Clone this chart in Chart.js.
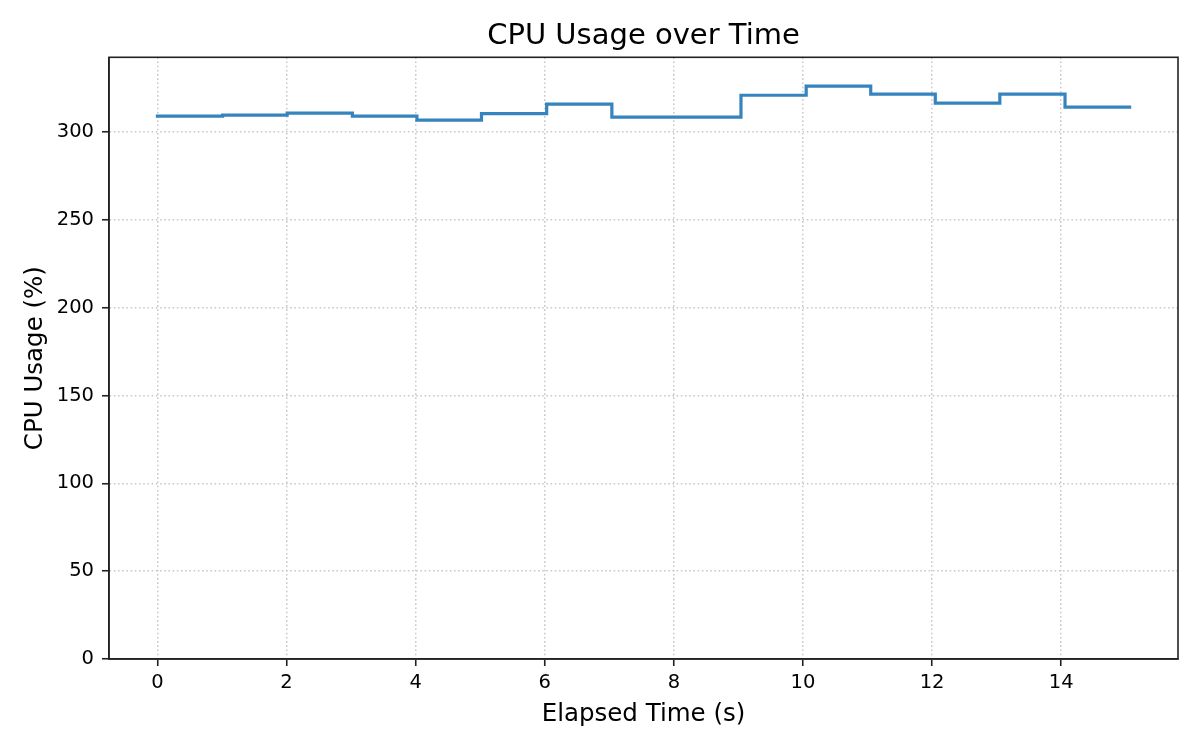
<!DOCTYPE html>
<html>
<head>
<meta charset="utf-8">
<script src="https://cdn.jsdelivr.net/npm/chart.js@4"></script>
<style>
  html, body { margin: 0; padding: 0; background: #ffffff; }
  #wrap { width: 1200px; height: 750px; }
</style>
</head>
<body>
<div id="wrap"><canvas id="c" width="1200" height="750"></canvas></div>
<script>
// Data
const elapsedTime = [0, 1.01, 2.01, 3.02, 4.02, 5.02, 6.03, 7.04, 8.04, 9.04, 10.05, 11.05, 12.05, 13.05, 14.06, 15.06];
const cpuUsage    = [309.1, 309.7, 310.8, 309.1, 306.8, 310.5, 315.9, 308.5, 308.5, 321.0, 326.2, 321.6, 316.5, 321.6, 314.2, 314.2];
const xTickValues = [0, 2, 4, 6, 8, 10, 12, 14];
const yTickValues = [0, 50, 100, 150, 200, 250, 300];

const FONT = "'DejaVu Sans', sans-serif";

const framePlugin = {
  id: 'frame',
  afterDraw(chart) {
    const { ctx, chartArea: a } = chart;
    ctx.save();
    ctx.strokeStyle = '#222222';
    ctx.lineWidth = 1.6;
    ctx.strokeRect(a.left, a.top, a.right - a.left, a.bottom - a.top);
    ctx.restore();
  }
};

new Chart(document.getElementById('c'), {
  type: 'line',
  data: {
    datasets: [{
      data: elapsedTime.map((t, i) => ({ x: t, y: cpuUsage[i] })),
      stepped: 'before',
      borderColor: '#3584bd',
      borderWidth: 3.2,
      borderCapStyle: 'square',
      borderJoinStyle: 'miter',
      pointRadius: 0,
      fill: false
    }]
  },
  options: {
    responsive: false,
    devicePixelRatio: 1,
    animation: false,
    layout: { padding: { left: 0, right: 22, top: 0, bottom: 0 } },
    plugins: {
      legend: { display: false },
      tooltip: { enabled: false },
      title: {
        display: true,
        text: 'CPU Usage over Time',
        fullSize: false,
        color: '#000000',
        font: { family: FONT, size: 29, weight: 'normal' },
        padding: { top: 19, bottom: 3.5 }
      }
    },
    scales: {
      x: {
        type: 'linear',
        min: -0.75,
        max: 15.81,
        afterBuildTicks(scale) { scale.ticks = xTickValues.map(v => ({ value: v })); },
        afterFit(scale) { scale.height = 91; },
        ticks: {
          color: '#000000',
          font: { family: FONT, size: 19.5 },
          padding: 5,
          maxRotation: 0,
          autoSkip: false
        },
        grid: {
          color: '#c8c8c8',
          lineWidth: 1.5,
          tickColor: '#222222',
          tickWidth: 1.6,
          tickLength: 7,
          tickBorderDash: []
        },
        border: { display: true, color: '#222222', width: 1.6, dash: [1.6, 2.6] },
        title: {
          display: true,
          text: 'Elapsed Time (s)',
          color: '#000000',
          font: { family: FONT, size: 24.5 },
          padding: { top: 0, bottom: 21 }
        }
      },
      y: {
        type: 'linear',
        min: 0,
        max: 342.6,
        afterBuildTicks(scale) { scale.ticks = yTickValues.map(v => ({ value: v })); },
        afterFit(scale) { scale.width = 109; },
        ticks: {
          color: '#000000',
          font: { family: FONT, size: 19.5 },
          padding: 8
        },
        grid: {
          color: '#c8c8c8',
          lineWidth: 1.5,
          tickColor: '#222222',
          tickWidth: 1.6,
          tickLength: 7,
          tickBorderDash: []
        },
        border: { display: true, color: '#222222', width: 1.6, dash: [1.6, 2.6] },
        title: {
          display: true,
          text: 'CPU Usage (%)',
          color: '#000000',
          font: { family: FONT, size: 24.5 },
          padding: { top: 21, bottom: 0 }
        }
      }
    }
  },
  plugins: [framePlugin]
});
</script>
</body>
</html>
